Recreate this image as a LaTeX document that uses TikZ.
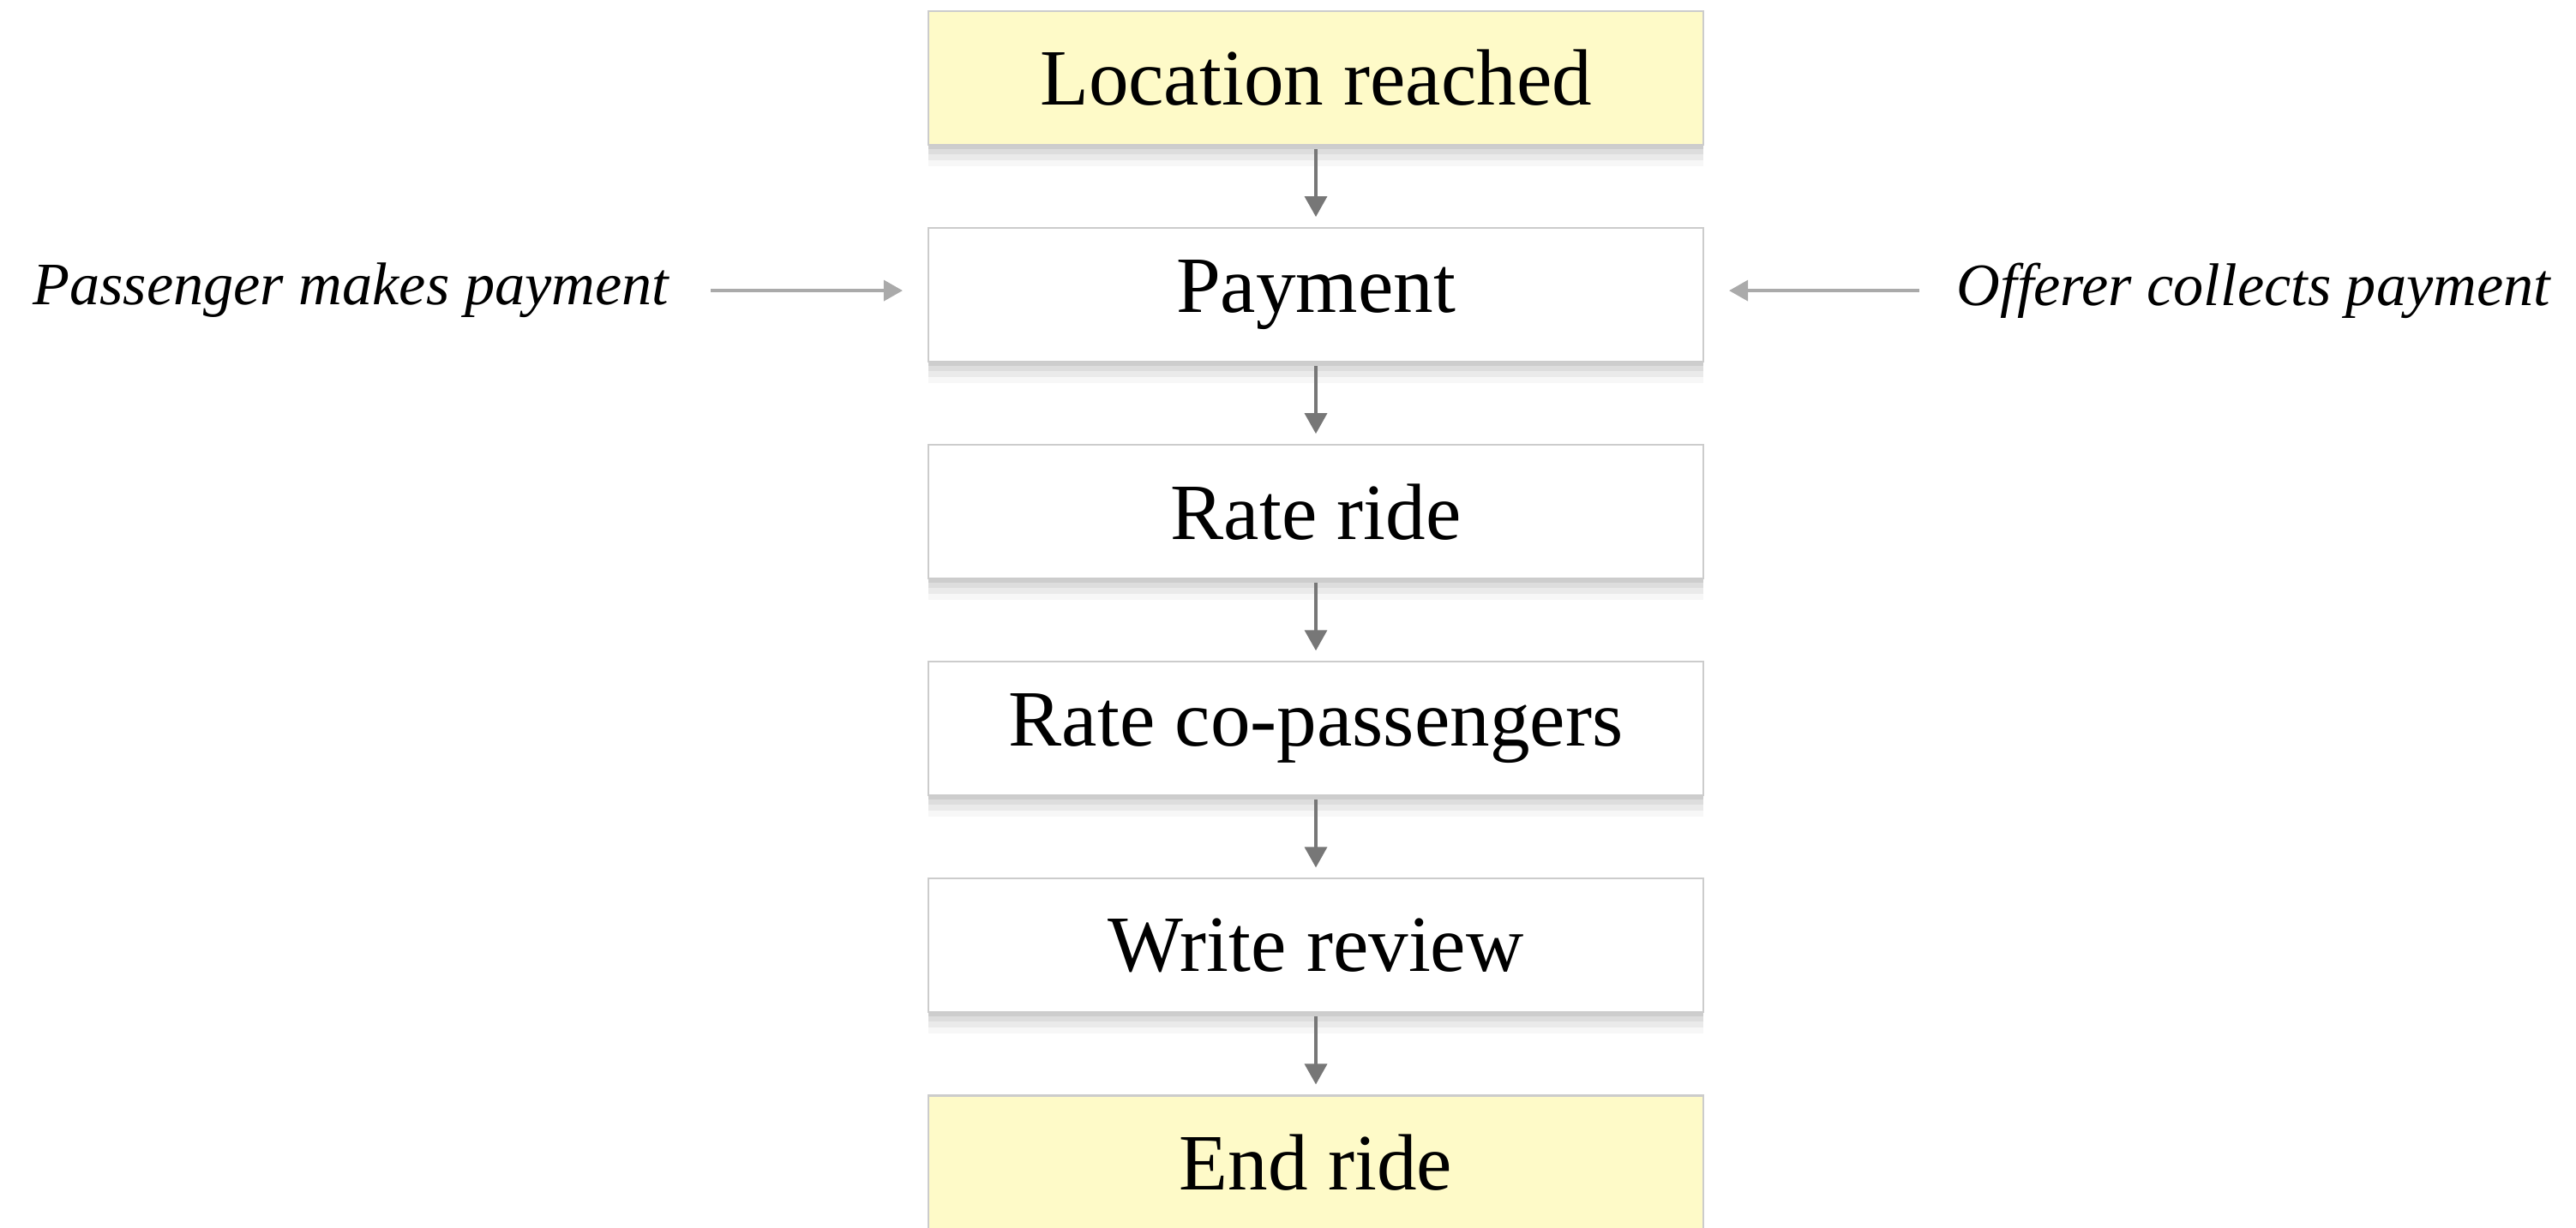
\documentclass[tikz,border=0pt]{standalone}
\usepackage{fontspec}
\setmainfont{Liberation Serif}
\usepackage{tikz}
\usetikzlibrary{positioning,shadows,arrows.meta}
\definecolor{stepyellow}{HTML}{FEFAC8}
\definecolor{stepline}{HTML}{CCCCCC}
\definecolor{flowgray}{HTML}{777777}
\definecolor{sidegray}{HTML}{AAAAAA}
\tikzset{softshadow/.style={
  drop shadow={shadow xshift=0cm, shadow yshift=-0.05cm, opacity=0.07, fill=black},
  drop shadow={shadow xshift=0cm, shadow yshift=-0.11cm, opacity=0.06, fill=black},
  drop shadow={shadow xshift=0cm, shadow yshift=-0.18cm, opacity=0.05, fill=black},
  drop shadow={shadow xshift=0cm, shadow yshift=-0.25cm, opacity=0.03, fill=black}}}
\tikzset{stepbox/.style={draw=stepline, line width=0.6pt, fill=white,
  minimum width=9.04cm, minimum height=1.56cm, inner sep=0pt,
  font=\fontsize{26.5}{31}\selectfont, softshadow}}
\tikzset{endbox/.style={stepbox, fill=stepyellow}}
\tikzset{flow/.style={draw=flowgray, line width=1pt,
  -{Triangle[length=0.24cm, width=0.26cm]}, shorten <=0.04cm, shorten >=0.12cm}}
\tikzset{side/.style={draw=sidegray, line width=1pt,
  -{Triangle[length=0.22cm, width=0.24cm]}}}
\tikzset{note/.style={inner sep=0pt, font=\fontsize{20}{24}\selectfont\itshape}}

\begin{document}
\begin{tikzpicture}[node distance=0.95cm]
\useasboundingbox (0,0) rectangle (30.05,-14.33);

\node[endbox] (loc) at (15.35,-0.91) {Location reached};
\node[stepbox, below=of loc] (pay) {Payment};
\node[stepbox, below=of pay] (rate) {Rate ride};
\node[stepbox, below=of rate] (copass) {Rate co-passengers};
\node[stepbox, below=of copass] (review) {Write review};
\node[endbox, below=of review] (end) {End ride};

\draw[flow] (loc) -- (pay);
\draw[flow] (pay) -- (rate);
\draw[flow] (rate) -- (copass);
\draw[flow] (copass) -- (review);
\draw[flow] (review) -- (end);

\node[note, left=3.01cm of pay, yshift=0.05cm] (passenger) {Passenger makes payment};
\node[note, right=2.94cm of pay, yshift=0.05cm] (offerer) {Offerer collects payment};
\draw[side, shorten <=0.48cm, shorten >=0.29cm] (passenger.east) -- (pay.west |- passenger.east);
\draw[side, shorten <=0.43cm, shorten >=0.29cm] (offerer.west) -- (pay.east |- offerer.west);

\end{tikzpicture}
\end{document}
